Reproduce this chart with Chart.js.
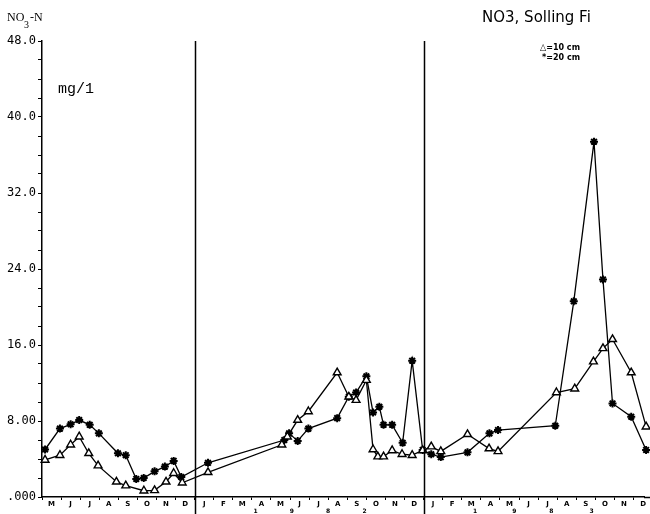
<!DOCTYPE html>
<html><head><meta charset="utf-8">
<script src="https://cdn.jsdelivr.net/npm/chart.js@4.4.1/dist/chart.umd.min.js"></script>
<style>html,body{margin:0;padding:0;background:#fff}#wrap{width:650px;height:514px;position:relative}</style>
</head><body><div id="wrap"><canvas id="c" width="650" height="514"></canvas></div>
<script>
// time axis: months since 1 May of first year
const monthLabels = ['M','J','J','A','S','O','N','D','J','F','M','A','M','J','J','A','S','O','N','D','J','F','M','A','M','J','J','A','S','O','N','D'];
const yTickLabels = {0:'.000',8:'8.00',16:'16.0',24:'24.0',32:'32.0',40:'40.0',48:'48.0'};
const yearBreaks = [8, 20];
const yearDigitMonths = [11.2, 13.1, 15.0, 16.9, 22.7, 24.75, 26.7, 28.8];
const yearDigitText = ['1','9','8','2','1','9','8','3'];

const months10 = [0.16,0.94,1.5,1.95,2.45,2.94,3.9,4.39,5.34,5.9,6.5,6.9,7.35,
  8.7,12.57,12.86,13.4,13.96,15.47,16.08,16.46,17.0,17.35,17.6,17.9,18.35,18.87,19.4,19.95,
  20.4,20.9,22.3,23.43,23.9,26.96,27.92,28.9,29.4,29.9,30.88,31.66];
const values10 = [3.9,4.4,5.5,6.35,4.6,3.3,1.6,1.2,0.66,0.7,1.6,2.5,1.5,
  2.6,5.5,6.35,8.1,9.0,13.1,10.55,10.2,12.3,5.0,4.25,4.25,4.9,4.5,4.4,4.9,
  5.3,4.8,6.6,5.1,4.8,11.0,11.4,14.25,15.65,16.6,13.1,7.4];

const months20 = [0.16,0.94,1.5,1.95,2.5,2.98,3.98,4.39,4.94,5.33,5.9,6.44,6.9,7.3,
  8.7,12.7,12.95,13.4,13.96,15.47,16.08,16.46,17.0,17.35,17.68,17.9,18.35,18.9,19.4,19.95,
  20.4,20.9,22.3,23.45,23.9,26.9,27.87,28.93,29.4,29.9,30.88,31.66];
const values20 = [5.0,7.2,7.65,8.1,7.6,6.7,4.6,4.4,1.9,2.0,2.7,3.2,3.8,2.1,
  3.6,6.0,6.7,5.9,7.2,8.3,10.55,11.0,12.7,8.9,9.5,7.6,7.6,5.7,14.35,4.95,
  4.5,4.2,4.7,6.7,7.05,7.5,20.6,37.4,22.9,9.85,8.45,4.95];

const pts = (xs, ys) => xs.map((x, i) => ({x, y: ys[i]}));

const deco = {
  id: 'deco',
  afterDraw(chart) {
    const ctx = chart.ctx, xs = chart.scales.x, ca = chart.chartArea;
    ctx.save();
    ctx.strokeStyle = '#000'; ctx.lineWidth = 1.5;
    yearBreaks.forEach(m => {
      const px = Math.round(xs.getPixelForValue(m)) + 0.5;
      ctx.beginPath(); ctx.moveTo(px, ca.top); ctx.lineTo(px, 514); ctx.stroke();
    });
    // extend x axis line to the canvas edge
    ctx.beginPath(); ctx.moveTo(ca.right, ca.bottom + 0.5); ctx.lineTo(650, ca.bottom + 0.5); ctx.stroke();
    ctx.fillStyle = '#000';
    ctx.textAlign = 'center'; ctx.textBaseline = 'alphabetic';
    ctx.font = 'bold 6px "DejaVu Sans"';
    yearDigitMonths.forEach((m, i) => ctx.fillText(yearDigitText[i], xs.getPixelForValue(m), 513));
    // title
    ctx.textAlign = 'left';
    ctx.font = '15px "DejaVu Sans"';
    ctx.fillText('NO3, Solling Fi', 482, 22, 117);
    // legend
    ctx.font = 'bold 9px "DejaVu Sans"';
    ctx.fillText('\u25B3=10 cm', 540, 50, 40);
    ctx.fillText('*=20 cm', 542, 60, 38);
    // y title
    ctx.font = '12px "Liberation Serif"';
    ctx.fillText('NO', 7, 21);
    ctx.font = '10px "Liberation Serif"';
    ctx.fillText('3', 24, 28);
    ctx.font = '12px "Liberation Serif"';
    ctx.fillText('-N', 30, 21);
    ctx.font = '15px "Liberation Mono"';
    ctx.fillText('mg/1', 58, 93);
    ctx.restore();
  }
};

new Chart(document.getElementById('c'), {
  type: 'scatter',
  data: {
    datasets: [
      { label: '10 cm', data: pts(months10, values10), showLine: true, borderColor: '#000', borderWidth: 1.3, clip: false,
        pointStyle: 'triangle', pointRadius: 4.5, pointBackgroundColor: '#fff', pointBorderColor: '#000', pointBorderWidth: 1.4, tension: 0 },
      { label: '20 cm', data: pts(months20, values20), showLine: true, borderColor: '#000', borderWidth: 1.3, clip: false,
        pointStyle: 'star', pointRadius: 4, pointBackgroundColor: '#000', pointBorderColor: '#000', pointBorderWidth: 2, tension: 0 }
    ]
  },
  options: {
    responsive: false, animation: false, devicePixelRatio: 1,
    layout: { padding: { top: 41, right: 0, left: 0, bottom: 0 } },
    plugins: { legend: { display: false }, tooltip: { enabled: false } },
    scales: {
      x: {
        type: 'linear', min: 0, max: 31.55,
        afterFit(s) { s.height = 17; },
        afterBuildTicks(s) { const t = []; for (let v = 0; v <= 31.5; v += 0.5) t.push({value: v}); s.ticks = t; },
        ticks: { autoSkip: false, maxRotation: 0, padding: 0, color: '#000',
          font: { family: 'DejaVu Sans', size: 7, weight: 'bold' },
          callback: v => Number.isInteger(v) ? '' : monthLabels[Math.floor(v)] },
        grid: { drawOnChartArea: false, drawTicks: true, tickLength: 3,
          tickColor: c => (c.tick && Number.isInteger(c.tick.value)) ? '#000' : 'rgba(0,0,0,0)' },
        border: { display: true, color: '#000', width: 1.5 }
      },
      y: {
        min: 0, max: 48,
        afterFit(s) { s.width = 42; },
        ticks: { stepSize: 2, autoSkip: false, padding: 2, color: '#000',
          font: { family: 'DejaVu Sans Mono', size: 12 },
          callback: v => (yTickLabels[v] !== undefined ? yTickLabels[v] : '') },
        grid: { drawOnChartArea: false, drawTicks: true, tickLength: 4, tickColor: '#000' },
        border: { display: true, color: '#000', width: 1.5 }
      }
    }
  },
  plugins: [deco]
});
</script></body></html>
